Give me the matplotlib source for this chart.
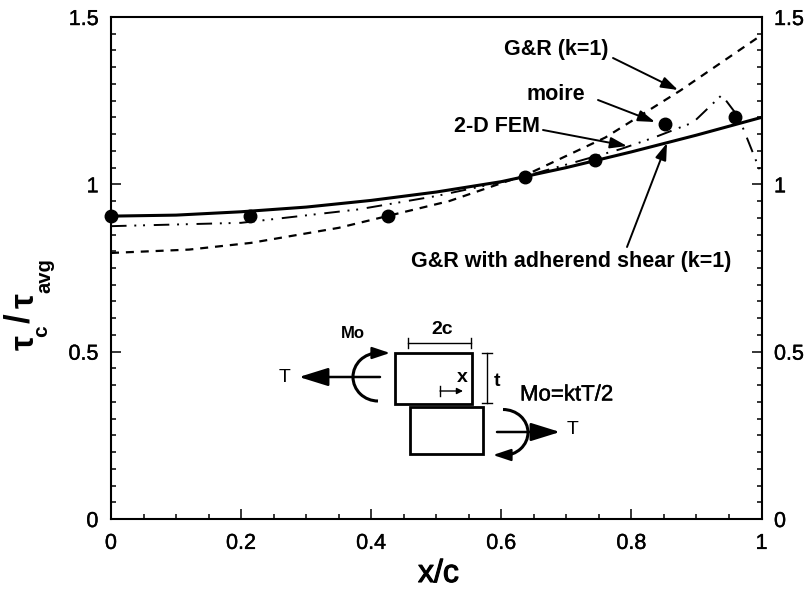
import matplotlib
matplotlib.use('Agg')
import matplotlib.pyplot as plt
import matplotlib.patheffects as pe
from matplotlib.patches import Arc, Rectangle
from matplotlib.ticker import MultipleLocator

plt.rcParams['font.family'] = ['Liberation Sans', 'DejaVu Sans']

# ---- Data ----

moire_x = [0.0, 0.214, 0.426, 0.636, 0.744, 0.852, 0.959]
moire_y = [0.905, 0.905, 0.905, 1.022, 1.073, 1.18, 1.2]

adherend_x = [0.0, 0.1, 0.2, 0.3, 0.4, 0.5, 0.6, 0.7, 0.8, 0.9, 1.0]
adherend_y = [0.905, 0.908, 0.918, 0.932, 0.952, 0.977, 1.008, 1.05, 1.097, 1.147, 1.2]

gr_x = [0.0, 0.12, 0.215, 0.35, 0.52, 0.64, 0.76, 0.875, 1.0]
gr_y = [0.795, 0.805, 0.825, 0.87, 0.95, 1.03, 1.14, 1.28, 1.446]

fem_x = [0.0, 0.2, 0.38, 0.5, 0.62, 0.72, 0.783, 0.835, 0.895, 0.939, 0.965, 1.0]
fem_y = [0.875, 0.885, 0.925, 0.965, 1.015, 1.07, 1.105, 1.14, 1.185, 1.267, 1.2, 1.03]

x_ticks = [0, 0.2, 0.4, 0.6, 0.8, 1]
x_labels = ['0', '0.2', '0.4', '0.6', '0.8', '1']
y_ticks = [0, 0.5, 1, 1.5]
y_labels = ['0', '0.5', '1', '1.5']

# ---- Figure ----

fig = plt.figure(figsize=(8.06, 5.92), dpi=100)
ax = fig.add_axes([111 / 806, 1 - 519 / 592, 650.5 / 806, 502 / 592])
ax.set_xlim(0, 1)
ax.set_ylim(0, 1.5)

ax.plot(adherend_x, adherend_y, color='black', lw=2.2, zorder=3)
ax.plot(gr_x, gr_y, color='black', lw=1.6, dashes=(3.6, 3.1), zorder=3)
ax.plot(fem_x, fem_y, color='black', lw=1.4, dashes=(8, 4, 1, 3.5, 1, 4.5), zorder=3)
ax.plot(moire_x, moire_y, 'o', color='black', ms=9, clip_on=False, zorder=4)

ax.set_xticks(x_ticks)
ax.set_xticklabels(x_labels)
ax.set_yticks(y_ticks)
ax.set_yticklabels(y_labels)
ax.xaxis.set_minor_locator(MultipleLocator(0.05))
ax.yaxis.set_minor_locator(MultipleLocator(0.05))
ax.tick_params(which='major', direction='in', length=7, width=1.1, top=False, right=True,
               labelsize=15.5, labelright=True)
ax.tick_params(which='minor', direction='in', length=3.8, width=1.1, top=False, right=True)
ax.tick_params(axis='x', which='major', pad=10)
ax.tick_params(axis='y', which='major', pad=9)
for s in ax.spines.values():
    s.set_linewidth(1.5)

thick = [pe.withStroke(linewidth=0.3, foreground='black')]
for t in ax.xaxis.get_major_ticks():
    t.label1.set_path_effects(thick)
for t in ax.yaxis.get_major_ticks():
    t.label1.set_path_effects(thick)
    t.label2.set_path_effects(thick)

# Overlay in image pixels for the notes and the joint sketch
ov = fig.add_axes([0, 0, 1, 1], facecolor='none', zorder=5)
ov.set_xlim(0, 806)
ov.set_ylim(592, 0)
ov.axis('off')

# Axis titles
ov.text(438.5, 574, 'x/c', fontsize=23, ha='center', va='center',
        path_effects=[pe.withStroke(linewidth=0.8, foreground='black')])
ov.text(25, 343, 'τ', fontsize=24, fontweight='bold', rotation=90, ha='center', va='center')
ov.text(42, 331, 'c', fontsize=15, fontweight='bold', rotation=90, ha='center', va='center')
ov.text(20, 318, '/', fontsize=25, fontweight='bold', rotation=90, ha='center', va='center')
ov.text(25, 301, 'τ', fontsize=24, fontweight='bold', rotation=90, ha='center', va='center')
ov.text(45, 276, 'avg', fontsize=14.5, fontweight='bold', rotation=90, ha='center', va='center')

# Curve notes
head = '-|>,head_length=0.6,head_width=0.2'
note_arrow = dict(arrowstyle=head, color='black', lw=1.4, mutation_scale=17, shrinkA=0, shrinkB=0)
notes = [
    ('G&R (k=1)', 504, 49, (613, 58), (678, 90)),
    ('moire', 527, 95, (598, 100), (655, 122)),
    ('2-D FEM', 454, 127, (543, 130), (627, 146)),
    ('G&R with adherend shear (k=1)', 411, 262, (627, 247), (667, 143)),
]
for label, tx, ty, start, end in notes:
    ov.text(tx, ty, label, fontsize=15.5, fontweight='bold', ha='left', va='center')
    ov.annotate('', xy=end, xytext=start, arrowprops=note_arrow)

# Joint sketch
ov.add_patch(Rectangle((395, 353), 77, 51, fill=False, lw=2))
ov.add_patch(Rectangle((410, 407), 73, 47, fill=False, lw=2))
ov.plot([408, 471], [343, 343], color='black', lw=1)
ov.plot([408, 408], [338, 348], color='black', lw=1)
ov.plot([471, 471], [338, 348], color='black', lw=1)
ov.plot([487, 487], [353, 403], color='black', lw=1)
ov.plot([482, 492], [353, 353], color='black', lw=1)
ov.plot([482, 492], [403, 403], color='black', lw=1)

arrow = dict(arrowstyle='-|>,head_length=0.9,head_width=0.28', color='black', lw=1.8,
             mutation_scale=20, shrinkA=0, shrinkB=0)
ov.annotate('', xy=(299, 377), xytext=(380, 377), arrowprops=arrow)
ov.annotate('', xy=(560, 432), xytext=(497, 432), arrowprops=arrow)
small = dict(arrowstyle='-|>', color='black', lw=1, mutation_scale=9, shrinkA=0, shrinkB=0)
ov.annotate('', xy=(463, 391), xytext=(440, 391), arrowprops=small)
ov.plot([440, 440], [386, 396], color='black', lw=1)
ov.add_patch(Arc((378, 377), 50, 48, theta1=90, theta2=270, lw=2.2))
ov.add_patch(Arc((503, 432.5), 50, 46, theta1=270, theta2=90, lw=2.2))
curl = dict(arrowstyle='-|>,head_length=0.9,head_width=0.3', color='black', lw=1.6,
            mutation_scale=12, shrinkA=0, shrinkB=0)
ov.annotate('', xy=(390, 353), xytext=(376, 353), arrowprops=curl)
ov.annotate('', xy=(493, 455), xytext=(506, 455), arrowprops=curl)

for label, tx, ty, size, weight in [
    ('T', 285, 377, 14, 'normal'),
    ('T', 573, 429, 14, 'normal'),
    ('Mo', 353, 334, 12, 'bold'),
    ('2c', 442, 329, 14, 'bold'),
    ('x', 462, 377, 14, 'bold'),
    ('t', 497, 382, 14, 'bold'),
]:
    ov.text(tx, ty, label, fontsize=size, fontweight=weight, ha='center', va='center')
ov.text(520, 395, 'Mo=ktT/2', fontsize=16, ha='left', va='center', path_effects=thick)

fig.savefig('out.png', dpi=100)
